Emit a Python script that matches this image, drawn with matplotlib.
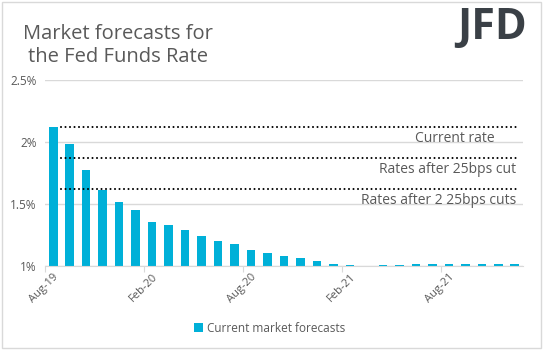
import matplotlib.pyplot as plt
import matplotlib.patches as patches
import numpy as np

# Monthly categories Aug-19 .. Dec-21
months = ["Aug-19", "Sep-19", "Oct-19", "Nov-19", "Dec-19", "Jan-20", "Feb-20",
          "Mar-20", "Apr-20", "May-20", "Jun-20", "Jul-20", "Aug-20", "Sep-20",
          "Oct-20", "Nov-20", "Dec-20", "Jan-21", "Feb-21", "Mar-21", "Apr-21",
          "May-21", "Jun-21", "Jul-21", "Aug-21", "Sep-21", "Oct-21", "Nov-21",
          "Dec-21"]
forecasts = [2.12, 1.986, 1.777, 1.616, 1.516, 1.454, 1.355, 1.331, 1.29, 1.245,
             1.204, 1.18, 1.132, 1.108, 1.083, 1.065, 1.04, 1.019, 1.008, 1.0,
             1.008, 1.008, 1.018, 1.018, 1.018, 1.018, 1.018, 1.018, 1.018]
ref_rates = [2.12, 1.87, 1.62]
ref_labels = ["Current rate      ", "Rates after 25bps cut", "Rates after 2 25bps cuts"]
label_months = ["Aug-19", "Feb-20", "Aug-20", "Feb-21", "Aug-21"]

plt.rcParams['font.family'] = ['Open Sans', 'DejaVu Sans']
grey = "#595959"

fig = plt.figure(figsize=(5.43, 3.51), dpi=100)
ax = fig.add_axes([45 / 543, 1 - 266 / 351, 478 / 543, 186 / 351])

x = np.arange(len(months))
ax.bar(x, np.array(forecasts) - 1, bottom=1, width=0.52, color="#00b0d8",
       label="Current market forecasts", zorder=2)

for r, lab in zip(ref_rates, ref_labels):
    ax.plot([0.45, 28.05], [r, r], color="black", lw=1.5,
            linestyle=(0, (0.01, 2.15)), dash_capstyle="round", zorder=3)
    ax.text(28.1, r - 0.035, lab, ha="right", va="top", fontsize=10, color=grey)

ax.set_xlim(-0.5, len(months) - 0.5)
ax.set_ylim(1, 2.5)
ax.set_yticks([1, 1.5, 2, 2.5])
ax.set_yticklabels(["1%", "1.5%", "2%", "2.5%"])
ax.yaxis.grid(True, color="#d9d9d9", lw=1, zorder=0)
ax.set_axisbelow(True)
for s in ["left", "right", "top"]:
    ax.spines[s].set_visible(False)
ax.spines["bottom"].set_color("#d9d9d9")
ax.tick_params(axis="y", length=0, labelsize=8.5, labelcolor=grey, pad=6)

idx = [months.index(m) for m in label_months]
ax.set_xticks([i - 0.5 for i in idx])
ax.set_xticklabels([])
ax.tick_params(axis="x", which="major", length=4, color="#d9d9d9")
ax.set_xticks(idx, minor=True)
ax.set_xticklabels(label_months, minor=True, rotation=45, ha="right",
                   rotation_mode="anchor", fontsize=8, color=grey)
ax.tick_params(axis="x", which="minor", length=0, pad=4)

fig.text(118 / 543, 1 - 62 / 351, "Market forecasts for\nthe Fed Funds Rate",
         ha="center", va="baseline", fontsize=14.5, color=grey, linespacing=1.2)
fig.text(492 / 543, 1 - 39 / 351, "JFD", ha="center", va="baseline",
         fontsize=31, fontweight="bold", color="#3a4046")

fig.legend(loc="center", bbox_to_anchor=(0.497, 1 - 328 / 351), frameon=False,
           fontsize=8.5, labelcolor=grey, handlelength=0.7, handleheight=0.7,
           handletextpad=0.4)

fig.patches.append(patches.Rectangle((2 / 543, 3 / 351), 539 / 543, 346 / 351,
                                     transform=fig.transFigure, fill=False,
                                     edgecolor="#d9d9d9", lw=1))

fig.savefig("out.png", dpi=100)
